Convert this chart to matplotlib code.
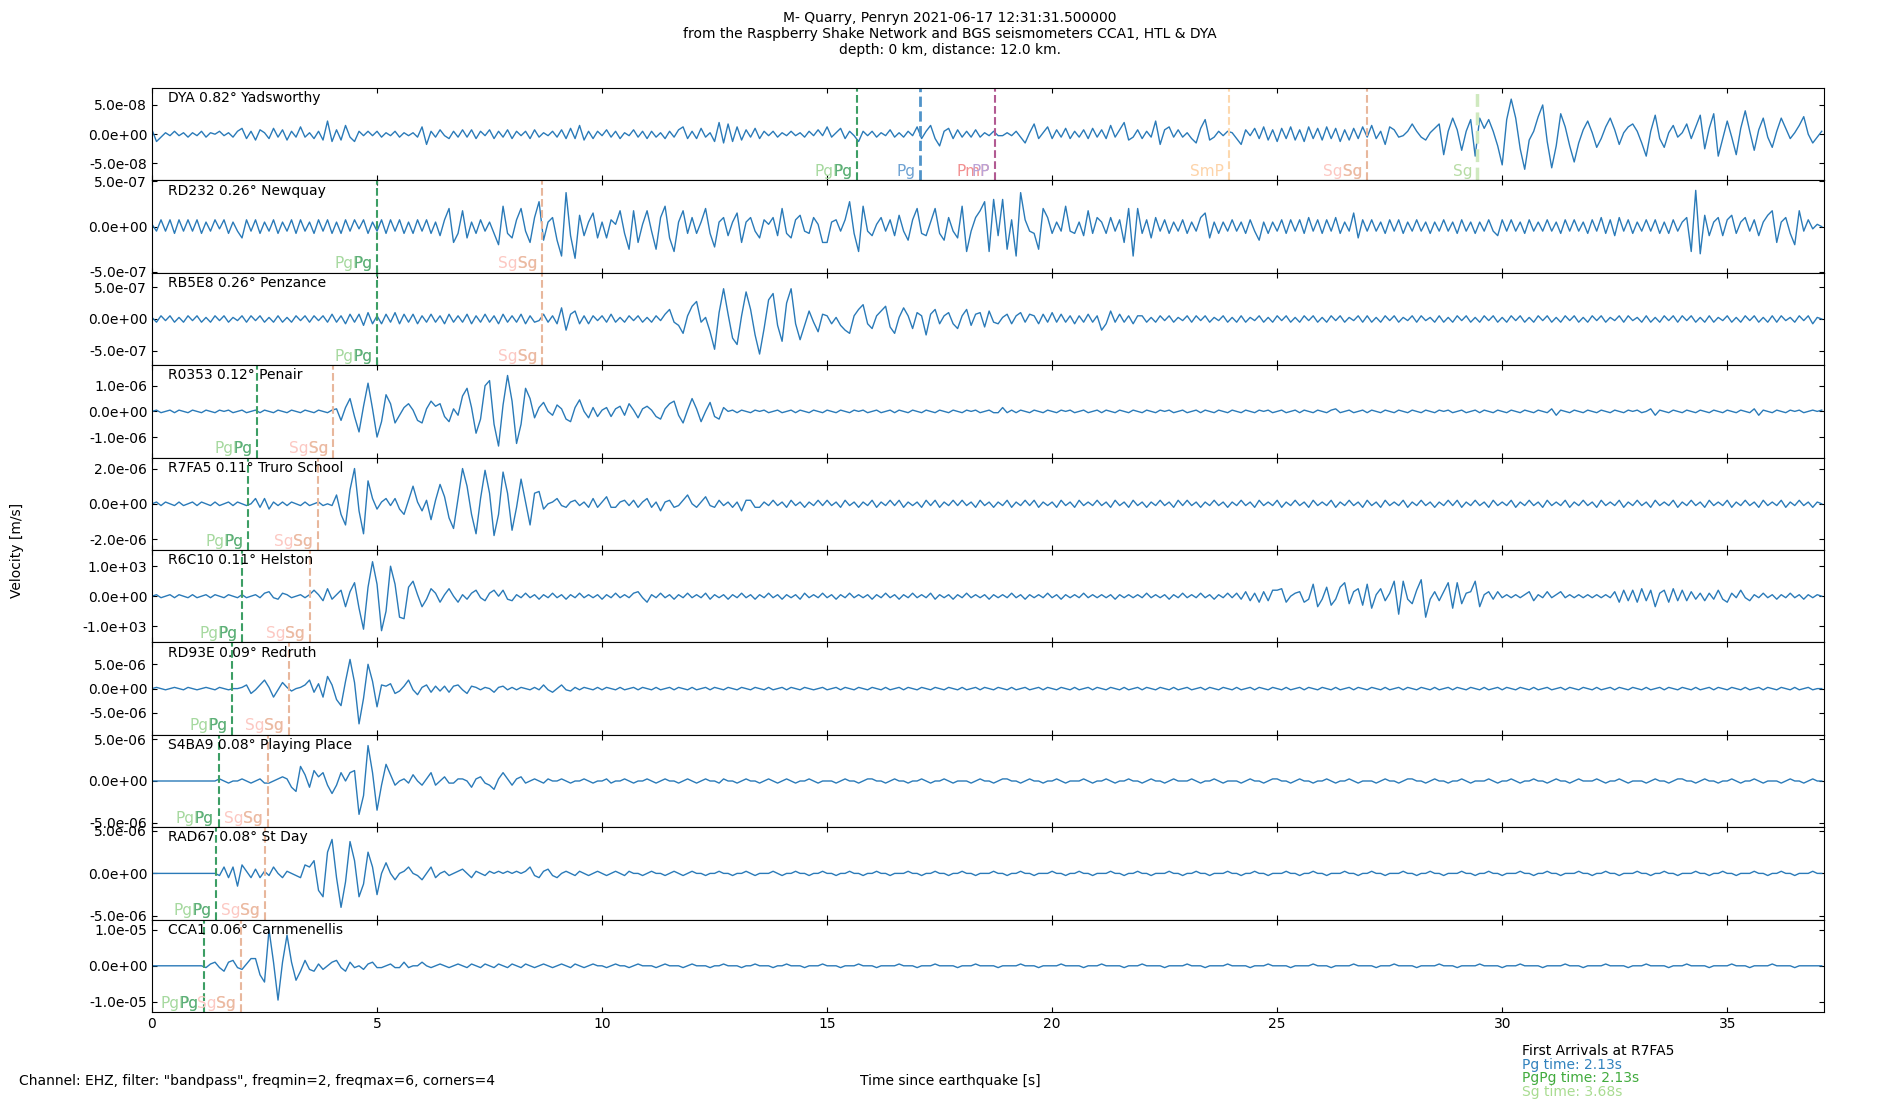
import matplotlib.pyplot as plt
import numpy as np
from matplotlib.ticker import FormatStrFormatter
from matplotlib.transforms import blended_transform_factory

# Data: one sample every 0.1 s,
# values in units of (y tick value / 20) for each station
dt = 0.1

station_labels = [
    "DYA 0.82° Yadsworthy", "RD232 0.26° Newquay", "RB5E8 0.26° Penzance",
    "R0353 0.12° Penair", "R7FA5 0.11° Truro School", "R6C10 0.11° Helston",
    "RD93E 0.09° Redruth", "S4BA9 0.08° Playing Place", "RAD67 0.08° St Day",
    "CCA1 0.06° Carnmenellis",
]
tick_vals = [5e-8, 5e-7, 5e-7, 1e-6, 2e-6, 1e3, 5e-6, 5e-6, 5e-6, 1e-5]
y_limits = [7.9e-8, 5.1e-7, 7.25e-7, 1.8e-6, 2.62e-6, 1.54e3, 9.5e-6, 5.54e-6, 5.44e-6, 1.28e-5]

pgpg_times = [15.67, 5.01, 5.01, 2.33, 2.13, 2.01, 1.78, 1.48, 1.43, 1.15]
sgsg_times = [27.0, 8.67, 8.67, 4.02, 3.68, 3.50, 3.04, 2.57, 2.50, 1.97]
dya_phases = ["Pg", "PmP", "SmP", "Sg"]
dya_phase_times = [17.07, 18.72, 23.93, 29.45]

dya = [
    3, -5, -2, 1, -1, 2, -1, 1, -2, 1,
    -1, 2, -2, 1, 0, 2, -1, 1, -2, 2,
    4, -3, 2, -4, 3, 1, -3, 4, -2, 3,
    -4, 2, -2, 5, -2, 1, -3, 2, -4, 9,
    -5, 3, -4, 6, -2, -5, 2, -1, 2, -1,
    2, -2, 1, -1, 2, -2, 1, -1, 1, -2,
    5, -7, 2, -2, 3, -1, -3, 2, -2, 3,
    -2, 3, -3, 2, -1, 3, -3, 2, -2, 3,
    -3, 2, -1, 2, -3, 3, -2, 1, -1, 2,
    -2, 3, -3, 4, -3, 6, -4, 2, -3, 2,
    -1, 3, -2, 2, -3, 1, -1, 3, -2, 2,
    -3, 2, -2, 1, -3, 2, -2, 3, 5, -3,
    2, -3, 4, -2, 1, -5, 8, -6, 7, -5,
    5, -4, 3, -2, 4, -3, 2, -1, 2, -2,
    1, -1, 2, -1, 1, -2, 2, -1, 3, -1,
    5, -2, 1, 4, -3, 2, -1, -5, 2, -1,
    2, -2, 1, -1, 3, -2, 1, -2, 2, -1,
    5, -3, 2, 6, -3, -8, 2, 4, -3, 3,
    -2, 2, -2, 3, -2, 1, -1, 2, -1, -1,
    1, -1, 2, -2, -6, 1, 7, -3, 1, 5,
    -3, 3, -2, 4, -3, 2, -2, 3, -3, 4,
    -2, 3, -3, 6, -2, 3, 8, -4, -2, 3,
    -3, 2, -2, 9, -7, 3, 5, -2, 3, -2,
    1, -3, -6, 4, 10, -4, -2, 2, -1, 2,
    1, -3, -7, 3, -1, 4, -3, 5, -4, 3,
    -5, 4, -3, 5, -4, 3, -5, 5, -3, 4,
    -4, 5, -3, 4, -5, 3, -4, 4, -3, 5,
    -2, 6, -3, 2, -7, 5, 3, -2, -1, 2,
    7, 2, -2, -4, 1, 4, 7, -14, 2, 11,
    3, -11, 2, 10, -15, 11, 4, 10, 2, -8,
    -21, 10, 24, 11, -10, -24, -4, 2, 12, 20,
    -5, -23, -8, 14, 5, -8, -19, -6, 3, 9,
    1, -9, -3, 5, 11, 3, -7, 1, 5, 7,
    2, -6, -15, 2, 13, -3, -9, 1, 6, -2,
    1, 7, -3, 5, 13, -10, 4, 14, -15, -3,
    9, -2, -14, 4, 16, 2, -11, 3, 11, -2,
    -9, 2, 11, 4, -3, 1, 6, 12, 0, -6,
    -2, 2,
]

rd232 = [
    1, -2, 3, -2, 3, -3, 3, -2, 3, -2,
    3, -3, 2, -2, 3, -1, 3, -3, 2, -2,
    -5, 3, -2, 3, -3, 2, -2, 3, -3, 2,
    -2, 3, -3, 3, -2, 2, -3, 3, -2, 3,
    -3, 2, -3, 3, -2, 3, -1, 3, -3, 2,
    -2, 3, -3, 3, -2, 3, -3, 2, -3, 3,
    -2, 3, -3, 2, -4, 3, 8, -7, -3, 7,
    -5, 2, -3, 3, -2, 2, -3, -8, 9, -3,
    -5, 3, 8, -2, -7, 4, 11, -6, 2, 4,
    -6, -13, 15, -4, -14, 5, -4, 2, 6, -5,
    2, -5, 3, 1, 7, -3, -10, 7, -7, 1,
    7, -2, -10, 4, 9, -5, -11, 2, 7, -3,
    4, -3, 2, 8, -3, -9, 2, 4, -4, 2,
    6, -7, 2, 4, -2, -5, 3, 1, 4, -4,
    8, -3, -5, 3, 5, -2, -3, 4, 1, -7,
    -7, 2, 3, -2, 3, 11, -3, -11, 9, -2,
    -4, 1, 4, -2, 3, -4, 5, -2, -6, 3,
    8, -3, -4, 2, 8, -3, -6, 4, -2, -5,
    9, -11, -2, 4, 7, 11, -11, 12, -4, 12,
    -10, 3, -13, 15, 3, -2, -3, -10, 8, 4,
    -3, 2, -2, 9, -2, -3, 2, -4, 7, -3,
    4, 2, -3, 4, -2, 3, -7, 8, -13, 8,
    -3, 3, -5, 4, -2, 3, -3, 2, -2, 3,
    -3, 2, -2, 4, 6, -5, 2, -3, 2, -2,
    3, -2, 2, -3, 3, -2, -6, 2, -3, 2,
    -2, 3, -3, 3, -2, 3, -3, 4, -2, 3,
    -3, 3, -2, 4, -3, 2, -2, 6, -5, 3,
    -2, 3, -2, 2, -3, 3, -2, 3, -3, 2,
    -2, 3, -2, 2, -3, 2, -2, 3, -2, 2,
    -3, 3, -2, 2, -3, 2, -2, 3, -2, -4,
    3, -2, 3, -2, 2, -3, 3, -2, 2, -2,
    3, -2, 2, -3, 3, -2, 3, -2, 2, -3,
    3, -2, 4, -3, 3, -4, 4, -2, 3, -3,
    2, -2, 3, -2, 3, -3, 2, -3, 3, -2,
    2, 4, -11, 16, -12, 5, -4, 2, 4, -4,
    3, 5, -3, 2, 4, -2, 3, -4, 2, 5,
    7, -7, 2, 4, -3, -8, 7, -2, 3, -1,
    1, 0,
]

rb5e8 = [
    1, -2, 2, -1, 2, -2, 1, -2, 2, -1,
    2, -2, 1, -2, 2, -1, 2, -2, 1, -1,
    2, -2, 2, -1, 2, -2, 1, -2, 2, -2,
    1, -2, 2, -1, 2, -2, 2, -1, 2, -2,
    3, -2, 2, -3, 3, -2, 3, -4, 4, -3,
    2, -3, 3, -2, 4, -3, 3, -2, 3, -3,
    2, -2, 3, -2, 2, -3, 3, -2, 2, -2,
    3, -3, 2, -2, 3, -2, 2, -3, 3, -2,
    2, -2, 3, -3, 2, -2, -1, 3, -2, 2,
    -3, 7, -7, 3, 5, -3, 2, -3, 2, -1,
    2, -2, 3, -2, 1, -2, 2, -1, 2, -2,
    1, -2, 2, -1, 3, 6, -2, -4, -9, 2,
    8, 11, -2, 1, -8, -19, 4, 19, 3, -12,
    -16, 2, 17, 6, -10, -22, -6, 12, 16, -4,
    -14, 10, 19, -3, -13, -4, 5, -2, -8, 3,
    2, -3, 1, -4, -7, -9, 2, 6, 9, -3,
    -6, 2, 5, 8, -5, -9, 1, 7, 2, -6,
    4, 2, -10, 3, 6, -3, 2, 4, -3, -6,
    2, 6, -4, 3, 4, -5, 5, -2, -3, 1,
    3, -3, 2, 4, -2, 3, 2, -3, 3, -2,
    4, -2, 3, -2, 2, -3, 2, -2, 3, -2,
    2, -7, -3, 5, -2, 3, -2, 2, -3, 2,
    2, -2, 1, -2, 2, -1, 2, -2, 1, -1,
    2, -2, 2, -1, 2, -2, 1, -1, 2, -2,
    1, -2, 2, -2, 1, -1, 2, -2, 1, -2,
    2, -1, 2, -2, 1, -2, 2, -1, 2, -2,
    1, -2, 2, -1, 2, -2, 1, -1, 2, -2,
    2, -2, 1, -2, 2, -1, 2, -2, 1, -1,
    2, -2, 2, -1, 1, -2, 2, -2, 1, -2,
    2, -1, 2, -2, 1, -2, 2, -1, 2, -2,
    1, -2, 2, -1, 2, -2, 1, -2, 2, -1,
    2, -2, 1, -2, 2, -1, 2, -2, 1, -2,
    2, -1, 2, -2, 1, -1, 2, -2, 2, -1,
    1, -2, 2, -2, 1, -2, 2, -1, 2, -2,
    2, -1, 2, -2, 1, -2, 2, -2, 1, -1,
    2, -2, 1, -2, 2, -1, 2, -2, 1, -2,
    2, -2, 2, -1, 1, -2, 2, -1, 2, -3,
    1, 0,
]

r0353 = [
    0, 1, -1, 0, 1, -1, 1, 0, -1, 1,
    0, -1, 1, 0, -1, 1, 0, 1, -1, 0,
    1, -1, 0, 1, -1, 1, 0, -1, 1, 0,
    -1, 1, 0, -1, 1, 0, -1, 1, 0, -1,
    1, 2, -7, 3, 10, -4, -16, 4, 22, 2,
    -20, -8, 13, 6, -9, -3, 3, 6, 1, -7,
    -9, 2, 8, 4, 6, -4, -8, 2, -3, 12,
    18, 3, -17, -6, 20, 24, -10, -27, 5, 28,
    8, -25, -10, 18, 10, -5, 3, 7, 0, -3,
    5, 2, -6, -8, 3, 9, 0, -5, 3, -4,
    1, 3, -4, 2, 4, -3, 6, 1, -5, 2,
    4, 1, -4, -6, 2, 6, 8, -3, -9, 1,
    10, 2, -8, 0, 7, -4, -6, 3, 0, 1,
    -1, 1, 0, -1, 1, 0, 1, -1, 0, 1,
    -1, 0, 1, -1, 1, 0, -1, 1, 0, -1,
    1, 0, -1, 1, 0, -1, 1, 0, 1, -1,
    0, 1, -1, 0, 1, -1, 1, 0, -1, 1,
    0, -1, 1, 0, -1, 1, 0, -1, 1, 0,
    -1, 1, 0, 1, -1, 0, 1, -1, -1, 3,
    -1, 1, -1, 1, 0, -1, 1, 0, -1, 1,
    0, -1, 1, 0, 1, -1, 0, 1, -1, 0,
    1, -1, 1, 0, -1, 1, 0, -1, 1, 0,
    -1, 1, 0, -1, 1, 0, 1, -1, 0, 1,
    -1, 0, 1, -1, 1, 0, -1, 1, 0, -1,
    1, 0, -1, 1, 0, -1, 1, 0, 1, -1,
    0, 1, -1, 0, 1, -1, 1, 0, -1, 1,
    0, -1, 1, 2, -1, 0, 1, -1, 0, 1,
    -1, 1, 0, -1, 1, 0, -1, 1, 0, -1,
    1, 0, -1, 1, 0, -1, 1, 0, 1, -1,
    0, 1, -1, 0, 1, -1, 1, 0, -1, 1,
    0, -1, 1, 0, -1, 1, 0, -1, 1, 0,
    -1, 2, -3, 1, 0, -1, 1, 0, -1, 1,
    0, -1, 1, 0, -1, 1, 0, -1, 1, 0,
    1, -1, 0, 2, -3, 1, 0, -1, 1, 0,
    -1, 1, 0, -1, 1, 0, -1, 1, 0, -1,
    1, 0, -1, 1, 0, -1, 2, -3, 1, 0,
    -1, 1, 0, -1, 1, 0, 1, -1, 0, 1,
    0, 1,
]

r7fa5 = [
    0, 1, -1, 1, 0, -1, 1, -1, 0, 1,
    -1, 1, 0, -1, 1, -1, 0, 1, -1, 1,
    0, -1, 0, 3, -2, 3, -3, 1, -1, 1,
    -1, 1, 0, -1, 1, -1, 0, 1, -1, 0,
    -1, 5, -6, -12, 8, 20, -4, -17, 13, 3,
    -3, 1, 3, -1, 3, -3, -6, 2, 10, 1,
    -4, 2, -9, 2, 11, 4, -8, -14, 3, 20,
    10, -6, -17, 3, 19, 6, -18, -6, 18, 6,
    -15, -2, 14, 1, -12, 6, 7, -3, 0, 1,
    3, -1, -2, 1, 2, -1, 1, -2, 3, -2,
    1, 4, -2, -2, 1, 2, -1, 2, -2, 1,
    3, -2, 1, -4, 1, 2, -2, -1, 2, 5,
    0, -2, 1, 4, -1, -2, 2, -1, 1, -2,
    1, -4, 2, 2, -2, -2, 1, -1, 2, -1,
    1, -2, 2, -1, 1, -2, 1, -1, 2, -1,
    2, -1, 1, -2, 2, -1, 1, -2, 1, -1,
    2, -2, 1, -1, 2, -1, 2, -2, 1, -1,
    1, -2, 2, -1, 2, -2, 1, -1, 2, -1,
    2, -1, 1, -2, 2, -1, 1, -2, 1, -1,
    2, -2, 1, -1, 2, -1, 2, -2, 1, -1,
    1, -2, 2, -1, 1, -2, 2, -1, 1, -1,
    2, -1, 1, -2, 2, -1, 1, -2, 2, -1,
    1, -2, 1, -1, 2, -1, 1, -2, 2, -1,
    2, -1, 1, -2, 1, -1, 2, -1, 1, -2,
    1, -1, 2, -1, 1, -2, 2, -1, 1, -1,
    2, -2, 1, -1, 2, -1, 1, -2, 2, -1,
    1, -1, 2, -2, 1, -1, 2, -1, 1, -2,
    2, -1, 1, -2, 2, -1, 1, -1, 2, -2,
    1, -1, 2, -1, 1, -2, 1, -1, 2, -1,
    2, -2, 1, -1, 2, -1, 1, -2, 2, -1,
    1, -1, 2, -2, 1, -1, 2, -1, 1, -2,
    2, -1, 1, -1, 2, -2, 1, -1, 2, -1,
    1, -2, 2, -1, 1, -1, 2, -2, 1, -1,
    2, -1, 1, -2, 2, -1, 1, -1, 2, -2,
    1, -1, 2, -1, 1, -2, 2, -1, 1, -1,
    2, -2, 1, -1, 2, -1, 1, -2, 2, -1,
    1, -1, 2, -2, 1, -1, 2, -1, 1, -2,
    1, 0,
]

r6c10 = [
    0, 1, -1, 0, 1, -1, 1, 0, -1, 1,
    -1, 0, 1, -1, 1, 0, -1, 1, 0, -1,
    1, -1, 0, 1, -1, 2, 3, -1, -2, 2,
    1, -1, 0, 1, -1, 1, 4, 1, -3, 5,
    -2, 1, 4, -7, 3, 9, -8, -22, 6, 23,
    8, -23, -10, 20, 8, -14, -15, 6, 10, 1,
    -7, -2, 5, 2, -4, 1, 5, 0, -4, 1,
    -2, 2, 4, -1, -3, 2, 4, 0, 4, -2,
    -3, 1, -1, 2, -1, 1, -2, 1, -1, 2,
    -1, 1, -2, 1, -1, 2, -1, 1, -1, 1,
    -2, 1, -1, 2, -1, 1, -1, 2, 3, -1,
    -4, 1, -1, 2, -1, 1, -2, 1, -1, 2,
    -1, 1, -1, 2, -2, 1, -1, 1, -2, 1,
    -1, 2, -1, 1, -2, 1, -1, 2, -1, 1,
    -2, 1, -1, 1, -2, 2, -1, 1, -1, 2,
    -1, 1, -2, 1, -1, 2, -1, 1, -1, 1,
    -2, 1, -1, 2, -1, 1, -2, 1, -1, 2,
    -1, 1, -1, 2, -2, 1, -1, 1, -2, 1,
    -1, 2, -1, 1, -1, 1, -2, 1, -1, 1,
    -1, 2, -1, 1, -2, 1, -1, 1, -1, 2,
    -1, 1, -2, 1, -1, 1, -1, 2, -1, 1,
    -1, 1, -1, 1, -2, 1, -1, 1, -1, 1,
    -1, 2, -1, 1, -1, 1, -2, 1, -1, 2,
    -1, 1, -1, 2, -1, 1, -2, 1, -1, 2,
    -1, 2, -2, 3, -3, 2, -4, 3, -3, 4,
    4, 5, -4, 0, 2, 3, -4, -2, 8, -7,
    -2, 6, -6, -2, 6, 9, -5, 3, 5, -6,
    8, -8, 1, 5, -3, 2, 10, -12, 10, -2,
    -5, 4, 11, -14, -2, 3, -3, 3, 9, -8,
    9, -5, 2, 3, 10, -7, 1, 3, -2, 3,
    -1, 1, -1, 1, -1, 1, 3, -3, 1, -1,
    3, -1, 1, 3, -1, 1, -1, 1, -1, 1,
    -1, 1, -1, 1, -1, 3, -4, 4, -3, 4,
    -4, 5, -3, 4, -7, 2, 4, -4, 5, -3,
    4, -3, 3, -2, 2, -3, 2, -2, 4, -2,
    -4, 2, -1, 4, -1, -3, 1, -1, 2, -1,
    1, -2, 1, -1, 2, -1, 1, -2, 1, -1,
    1, 0,
]

rd93e = [
    0, 1, 0, -1, 0, 1, 0, -1, 1, 0,
    -1, 0, 1, 0, -1, 1, 0, -1, 0, 0,
    1, 3, -4, -1, 3, 7, 1, -7, -1, 5,
    1, -2, 0, 1, 3, 7, -3, 4, -7, 10,
    3, -9, -14, 6, 24, 5, -29, -8, 20, 6,
    -15, 3, 2, 4, -4, -2, 2, 7, -1, -5,
    1, 3, -3, 2, -2, 2, -3, 2, 3, -1,
    -4, 2, 1, -1, 1, 0, -3, 1, 2, -1,
    1, -1, 1, 0, -1, 1, -1, 3, -1, -3,
    0, 3, -1, -2, 1, -1, 1, 0, -1, 1,
    -1, 1, 0, -1, 1, -1, 0, 1, -1, 1,
    0, -1, 1, -1, 0, 1, -1, 1, 0, -1,
    1, -1, 0, 1, -1, 1, 0, -1, 1, 0,
    -1, 1, 0, -1, 1, 0, -1, 1, -1, 0,
    1, -1, 1, 0, -1, 1, 0, -1, 0, 1,
    -1, 0, 1, -1, 1, 0, -1, 1, 0, -1,
    1, 0, -1, 1, -1, 0, 1, -1, 1, 0,
    -1, 1, 0, -1, 1, 0, -1, 1, 0, -1,
    1, -1, 0, 1, -1, 1, 0, -1, 1, 0,
    -1, 1, -1, 0, 1, -1, 0, 1, -1, 1,
    0, -1, 1, 0, -1, 1, -1, 0, 1, -1,
    1, 0, -1, 1, 0, -1, 1, -1, 0, 1,
    -1, 1, 0, -1, 1, 0, -1, 1, -1, 0,
    1, -1, 0, 1, -1, 1, 0, -1, 1, 0,
    -1, 1, -1, 0, 1, -1, 1, 0, -1, 1,
    0, -1, 1, -1, 0, 1, -1, 1, 0, -1,
    1, 0, -1, 1, -1, 0, 1, -1, 1, 0,
    -1, 1, 0, -1, 1, -1, 0, 1, -1, 1,
    0, -1, 1, 0, -1, 1, -1, 0, 1, -1,
    1, 0, -1, 1, 0, -1, 1, -1, 0, 1,
    -1, 1, 0, -1, 1, 0, -1, 1, -1, 0,
    1, -1, 0, 1, -1, 1, 0, -1, 1, 0,
    -1, 1, -1, 0, 1, -1, 1, 0, -1, 1,
    0, -1, 1, -1, 0, 1, -1, 1, 0, -1,
    1, 0, -1, 1, -1, 0, 1, -1, 1, 0,
    -1, 1, 0, -1, 1, -1, 0, 1, -1, 1,
    0, -1, 1, 0, -1, 1, -1, 0, 1, -1,
    0, 0,
]

s4ba9 = [
    0, 0, 0, 0, 0, 0, 0, 0, 0, 0,
    0, 0, 0, 0, 0, 1, 0, -1, 0, 0,
    1, 0, -1, 0, 1, -1, -1, 0, 1, 2,
    1, -3, -5, 7, 3, -3, 5, 2, 4, -2,
    -6, -2, 4, 0, 4, 5, -16, -7, 17, 4,
    -14, -2, 8, 3, -2, 0, 1, -1, 3, 0,
    -2, 1, 4, -2, 0, 2, -1, -1, 1, 1,
    0, -3, 1, 2, -1, -2, -4, 1, 4, 1,
    -2, 1, 2, -1, 0, 1, 0, -1, 1, 0,
    0, 1, 0, -1, 0, 0, 1, 0, -1, 0,
    0, 1, -1, 0, 0, 1, 0, -1, 0, 0,
    1, 0, -1, 0, 1, 0, 0, -1, 0, 1,
    0, -1, 0, 1, 0, 0, -1, 1, 0, 0,
    -1, 0, 1, 0, 0, -1, 0, 1, 0, -1,
    0, 1, 0, -1, 0, 0, 1, 0, -1, 0,
    0, 0, -1, 0, 1, 0, 0, -1, 0, 1,
    1, 0, 0, -1, 0, 1, 0, 0, -1, 0,
    0, 1, 0, -1, 0, 0, 1, 0, -1, 0,
    0, 0, -1, 0, 1, 0, 0, -1, 0, 1,
    1, 0, 0, -1, 0, 1, 0, 0, -1, 0,
    0, 1, 0, -1, 0, 0, 0, 1, 0, -1,
    0, 0, 1, 0, -1, 0, 0, 1, 0, 0,
    -1, 0, 1, 0, 0, -1, 0, 1, 0, 0,
    0, 1, 0, -1, 0, 0, 1, 0, -1, 0,
    0, 0, -1, 0, 1, 0, 0, -1, 0, 1,
    1, 0, 0, -1, 0, 1, 0, 0, -1, 0,
    0, 1, 0, -1, 0, 0, 1, 0, -1, 0,
    0, 0, -1, 0, 1, 0, 0, -1, 0, 1,
    1, 0, 0, -1, 0, 1, 0, 0, -1, 0,
    0, 1, 0, -1, 0, 0, 0, 1, 0, -1,
    0, 0, 1, 0, -1, 0, 0, 1, 0, 0,
    -1, 0, 1, 0, 0, -1, 0, 1, 0, 0,
    0, 1, 0, -1, 0, 0, 1, 0, -1, 0,
    0, 0, -1, 0, 1, 0, 0, -1, 0, 1,
    1, 0, 0, -1, 0, 1, 0, 0, -1, 0,
    0, 1, 0, -1, 0, 0, 1, 0, -1, 0,
    0, 0, -1, 0, 1, 0, 0, -1, 0, 1,
    0, 0,
]

rad67 = [
    0, 0, 0, 0, 0, 0, 0, 0, 0, 0,
    0, 0, 0, 0, 0, -1, 3, -2, 3, -6,
    4, 1, -2, 2, -2, 1, -1, 3, 0, -2,
    1, 0, -1, -2, 4, 3, 6, -8, -11, 10,
    16, -2, -16, -4, 15, 6, -11, -5, 10, 3,
    -10, 0, 5, 0, -3, 0, 1, 3, 0, -1,
    -3, 0, 3, -2, 0, 1, -1, 0, 1, 2,
    0, -2, 1, 0, -1, 1, 0, 1, 0, 1,
    0, 1, 0, 1, 3, -1, -2, 1, 2, -1,
    -2, 0, 1, 0, -1, 1, 0, -1, 0, 1,
    0, -1, 0, 1, 0, -1, 1, 0, 0, -1,
    0, 1, 0, 0, -1, 0, 1, 0, -1, 0,
    1, 0, 0, -1, 0, 0, 1, 0, 0, -1,
    0, 0, 1, 0, -1, 0, 0, 0, 1, 0,
    -1, 0, 0, 1, 0, 0, -1, 0, 0, 1,
    0, 0, -1, 0, 0, 1, 0, 0, -1, 0,
    0, 1, 0, 0, -1, 0, 0, 0, 1, 0,
    0, -1, 0, 0, 1, 0, 0, -1, 0, 0,
    1, 0, 0, -1, 0, 0, 0, 1, 0, 0,
    -1, 0, 0, 1, 0, 0, -1, 0, 0, 0,
    1, 0, 0, -1, 0, 0, 1, 0, 0, -1,
    0, 0, 0, 1, 0, 0, -1, 0, 0, 1,
    0, 0, -1, 0, 0, 0, 1, 0, 0, -1,
    0, 0, 1, 0, 0, -1, 0, 0, 0, 1,
    0, 0, -1, 0, 0, 1, 0, 0, -1, 0,
    0, 0, 1, 0, 0, -1, 0, 0, 1, 0,
    0, -1, 0, 0, 0, 1, 0, 0, -1, 0,
    0, 1, 0, 0, -1, 0, 0, 0, 1, 0,
    0, -1, 0, 0, 1, 0, 0, -1, 0, 0,
    0, 1, 0, 0, -1, 0, 0, 1, 0, 0,
    -1, 0, 0, 0, 1, 0, 0, -1, 0, 0,
    1, 0, 0, -1, 0, 0, 0, 1, 0, 0,
    -1, 0, 0, 1, 0, 0, -1, 0, 0, 0,
    1, 0, 0, -1, 0, 0, 1, 0, 0, -1,
    0, 0, 0, 1, 0, 0, -1, 0, 0, 1,
    0, 0, -1, 0, 0, 0, 1, 0, 0, -1,
    0, 0, 1, 0, 0, -1, 0, 0, 0, 1,
    0, 0,
]

cca1 = [
    0, 0, 0, 0, 0, 0, 0, 0, 0, 0,
    0, 0, -1, 1, 2, -1, -3, 2, 3, -1,
    -2, 1, 4, 4, -5, -9, 20, 2, -19, 2,
    17, 2, -8, -3, 3, -2, -3, 1, -2, 0,
    2, 3, -1, -3, 2, -1, 0, -2, 1, 2,
    -1, -1, 0, 1, -1, -1, 2, -1, 0, 0,
    2, 0, -1, 0, 1, 0, -1, 0, 1, 0,
    -1, 1, 0, -1, 1, 0, -1, 1, 0, -1,
    1, 0, -1, 1, 0, -1, 0, 1, 0, -1,
    0, 1, 0, -1, 1, 0, -1, 0, 1, 0,
    0, -1, 0, 1, 0, 0, -1, 0, 1, 0,
    0, 0, -1, 0, 1, 0, 0, 0, -1, 0,
    1, 0, 0, 0, -1, 0, 0, 1, 0, 0,
    0, -1, 0, 0, 1, 0, 0, 0, -1, 0,
    0, 1, 0, 0, 0, -1, 0, 0, 0, 1,
    0, 0, 0, -1, 0, 0, 0, 1, 0, 0,
    0, -1, 0, 0, 0, 0, 1, 0, 0, 0,
    -1, 0, 0, 0, 1, 0, 0, 0, 0, -1,
    0, 0, 0, 1, 0, 0, 0, 0, -1, 0,
    0, 0, 0, 1, 0, 0, 0, -1, 0, 0,
    0, 0, 1, 0, 0, 0, 0, -1, 0, 0,
    0, 1, 0, 0, 0, 0, -1, 0, 0, 0,
    1, 0, 0, 0, 0, -1, 0, 0, 0, 0,
    1, 0, 0, 0, -1, 0, 0, 0, 0, 1,
    0, 0, 0, 0, -1, 0, 0, 0, 1, 0,
    0, 0, 0, -1, 0, 0, 0, 0, 1, 0,
    0, 0, -1, 0, 0, 0, 0, 1, 0, 0,
    0, 0, -1, 0, 0, 0, 1, 0, 0, 0,
    0, -1, 0, 0, 0, 0, 1, 0, 0, 0,
    -1, 0, 0, 0, 0, 1, 0, 0, 0, 0,
    -1, 0, 0, 0, 1, 0, 0, 0, 0, -1,
    0, 0, 0, 0, 1, 0, 0, 0, -1, 0,
    0, 0, 0, 1, 0, 0, 0, 0, -1, 0,
    0, 0, 1, 0, 0, 0, 0, -1, 0, 0,
    0, 1, 0, 0, 0, 0, -1, 0, 0, 0,
    0, 1, 0, 0, 0, -1, 0, 0, 0, 0,
    1, 0, 0, 0, 0, -1, 0, 0, 0, 0,
    0, 0,
]

traces = [dya, rd232, rb5e8, r0353, r7fa5, r6c10, rd93e, s4ba9, rad67, cca1]

# phase marker styles: line colour, line width, label pieces (text, colour)
phase_styles = {
    "PgPg": ("#3c9e64", 1.5, [("PgPg", "#a6d99f"), ("Pg", "#5bae7a")]),
    "Pg": ("#4f93c9", 2.0, [("Pg", "#6fa2d2")]),
    "PmP": ("#b25a92", 1.5, [("PmP", "#f29091"), ("PP", "#b9a3d8")]),
    "SmP": ("#fdd8ae", 1.5, [("SmP", "#fdd3a8")]),
    "SgSg": ("#e8b79c", 1.5, [("SgSg", "#fcc8c2"), ("Sg", "#e9bba0")]),
    "Sg": ("#cfe9bf", 2.5, [("Sg", "#b7dca4")]),
}


def mark_phase(ax, name, t):
    col, lw, parts = phase_styles[name]
    ax.axvline(t, color=col, ls="--", lw=lw)
    trans = blended_transform_factory(ax.transData, ax.transAxes)
    for txt, tcol in parts:
        ax.annotate(txt, xy=(t, 0), xycoords=trans, xytext=(-3.5, 1),
                    textcoords="offset points", ha="right", va="bottom",
                    color=tcol, fontsize=11)


fig, axes = plt.subplots(10, 1, figsize=(19, 11), dpi=100, sharex=True)
fig.subplots_adjust(left=0.08, right=0.96, top=0.92, bottom=0.08, hspace=0)

for i, ax in enumerate(axes):
    vals = np.array(traces[i], dtype=float) * tick_vals[i] / 20
    t = np.arange(len(vals)) * dt
    ax.plot(t, vals, color="#2a7ab8", lw=1)
    ax.set_xlim(0, 37.15)
    ax.set_ylim(-y_limits[i], y_limits[i])
    ax.set_yticks([-tick_vals[i], 0, tick_vals[i]])
    ax.yaxis.set_major_formatter(FormatStrFormatter("%.1e"))
    ax.set_xticks([0, 5, 10, 15, 20, 25, 30, 35])
    ax.tick_params(direction="in", top=True, right=True, labelsize=10)
    ax.text(0.0095, 0.965, station_labels[i], transform=ax.transAxes,
            va="top", ha="left", fontsize=10)
    mark_phase(ax, "PgPg", pgpg_times[i])
    mark_phase(ax, "SgSg", sgsg_times[i])
    if i == 0:
        for name, pt in zip(dya_phases, dya_phase_times):
            mark_phase(ax, name, pt)

fig.suptitle("M- Quarry, Penryn 2021-06-17 12:31:31.500000\n"
             "from the Raspberry Shake Network and BGS seismometers CCA1, HTL & DYA\n"
             "depth: 0 km, distance: 12.0 km.", fontsize=10, y=0.99, va="top")

fig.text(0.009, 0.5, "Velocity [m/s]", rotation=90, va="center", ha="center", fontsize=10)
fig.text(0.01, 0.017, 'Channel: EHZ, filter: "bandpass", freqmin=2, freqmax=6, corners=4',
         va="center", ha="left", fontsize=10)
fig.text(0.5, 0.017, "Time since earthquake [s]", va="center", ha="center", fontsize=10)

fig.text(0.801, 0.0445, "First Arrivals at R7FA5", va="center", fontsize=10, color="black")
fig.text(0.801, 0.0322, f"Pg time: {pgpg_times[4]:.2f}s", va="center", fontsize=10, color="#3182bd")
fig.text(0.801, 0.0198, f"PgPg time: {pgpg_times[4]:.2f}s", va="center", fontsize=10, color="#41ab3d")
fig.text(0.801, 0.0074, f"Sg time: {sgsg_times[4]:.2f}s", va="center", fontsize=10, color="#a8dc90")

plt.savefig("out.png", dpi=100)
plt.close()
